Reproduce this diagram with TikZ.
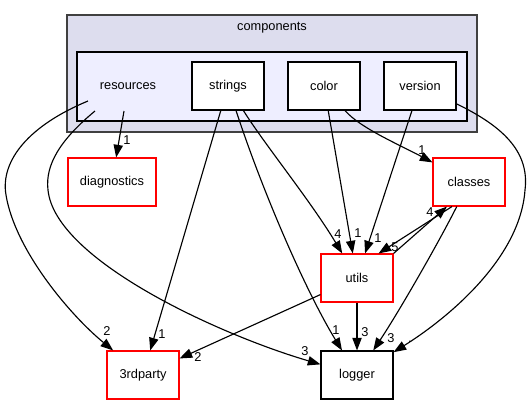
\documentclass[tikz,border=0pt]{standalone}
\usepackage{fontspec}
\setmainfont{Liberation Sans}
\usepackage{tikz}
\usetikzlibrary{arrows.meta}
\usetikzlibrary{calc}

\definecolor{outerfill}{RGB}{221,221,238}
\definecolor{innerfill}{RGB}{238,238,255}
\definecolor{outerline}{RGB}{64,64,64}

\tikzset{
  dirbox/.style={draw=black, fill=white, line width=0.8pt, minimum width=54pt,
    minimum height=36pt, inner sep=0pt, font=\fontsize{9.6}{11}\selectfont},
  reddir/.style={dirbox, draw=red},
  dep/.style={-{Triangle[length=9.5pt,width=7pt]}, line width=0.85pt},
  num/.style={inner sep=0pt, font=\fontsize{9.6}{11}\selectfont},
}

\begin{document}
\begin{tikzpicture}[x=0.75pt,y=-0.75pt]
    \useasboundingbox (0,0) rectangle (530,404);
    % clusters
    \draw[fill=outerfill, draw=outerline, line width=1.5pt] (67,15) rectangle (477,132);
    \draw[fill=innerfill, draw=black, line width=1pt] (77,52) rectangle (467,121);
    \node[num] (components) at (272,28) {components};
    \node[num] (resources) at (128,86) {resources};
    % directories
    \node[dirbox] (strings) at (228,86) {strings};
    \node[dirbox] (color) at (324,86) {color};
    \node[dirbox] (version) at (420,86) {version};
    \node[reddir, minimum width=66pt] (diagnostics) at (112,182) {diagnostics};
    \node[reddir] (classes) at (469,182) {classes};
    \node[reddir] (utils) at (357,278) {utils};
    \node[reddir] (thirdparty) at (143,375) {3rdparty};
    \node[dirbox] (logger) at (357,375) {logger};
    % dependencies
    \draw[dep] ($(resources)+(-4,25)$) -- (diagnostics);
    \draw[dep] ($(resources)+(-40,15)$) .. controls (30,125) and (0,160) .. (6,195)
      .. controls (15,250) and (70,315) .. (thirdparty);
    \draw[dep] ($(resources)+(-33,25)$) .. controls (60,140) and (45,165) .. (48,190)
      .. controls (55,260) and (220,335) .. (logger);
    \draw[dep] (strings) -- (thirdparty);
    \draw[dep] (strings) .. controls (262,190) and (305,290) .. (logger);
    \draw[dep] (strings) .. controls (265,145) and (310,200) .. (utils);
    \draw[dep] (color) -- (utils);
    \draw[dep] (color) .. controls (360,128) and (400,145) .. (classes);
    \draw[dep] (version) -- (utils);
    \draw[dep] (version) .. controls (500,125) and (530,150) .. (525,190)
      .. controls (520,260) and (445,320) .. (logger);
    \draw[dep] (utils.north east) -- ($(classes.south)+(-22,0)$);
    \draw[dep] ($(classes.south)+(-17,0)$) -- ($(utils.north east)+(-15,0)$);
    \draw[dep] (utils) -- (logger);
    \draw[dep] (utils) -- (thirdparty);
    \draw[dep] (classes) .. controls (440,240) and (400,310) .. (logger);
    % counts
    \node[num] (ndiag) at (127,140) {1};
    \node[num] (ntpres) at (107,331) {2};
    \node[num] (ntpstr) at (162,334) {1};
    \node[num] (ntputl) at (198,357) {2};
    \node[num] (nlogres) at (305,351) {3};
    \node[num] (nlogstr) at (336,330) {1};
    \node[num] (nlogutl) at (365,332) {3};
    \node[num] (nlogcls) at (391,338) {3};
    \node[num] (nlogver) at (410,342) {.};
    \node[num] (nutlstr) at (338,234) {4};
    \node[num] (nutlcol) at (358,233) {1};
    \node[num] (nutlver) at (378,238) {1};
    \node[num] (nutlcls) at (395,247) {5};
    \node[num] (nclsutl) at (430,212) {4};
    \node[num] (nclscol) at (422,150) {1};
\end{tikzpicture}
\end{document}
